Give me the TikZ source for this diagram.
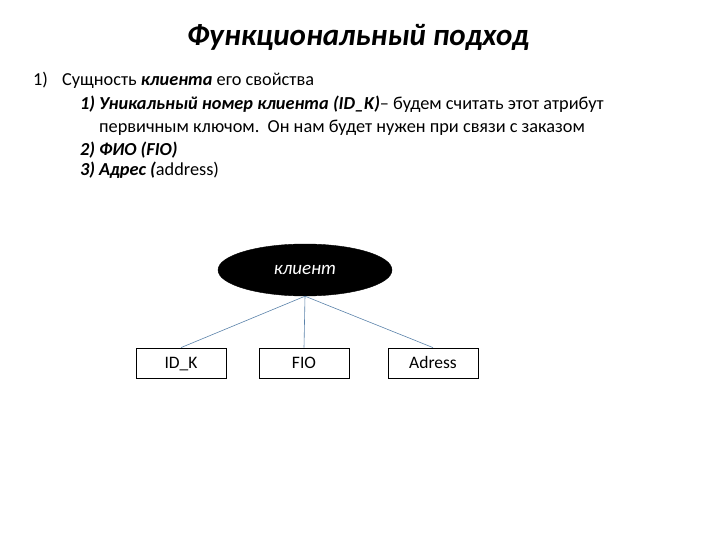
\documentclass[tikz,border=0pt]{standalone}
\usepackage{fontspec}
\setmainfont{Carlito}
\usetikzlibrary{shapes.geometric}
\definecolor{linkblue}{RGB}{90,130,170}
\tikzset{
  attr/.style={draw=black, line width=0.8pt, minimum width=90pt, minimum height=30pt, inner sep=0pt, text height=12pt, text depth=2pt, font=\fontsize{17.5}{20}\selectfont},
  ent/.style={ellipse, fill=black, draw=black, minimum width=174pt, minimum height=52pt, inner sep=0pt, text=white, font=\fontsize{19}{22}\selectfont\itshape},
  link/.style={draw=linkblue, line width=0.6pt},
  txt/.style={anchor=base west, inner sep=0pt, font=\fontsize{18.3}{22}\selectfont}
}
\begin{document}
\begin{tikzpicture}[x=1pt,y=-1pt]
\useasboundingbox (0,0) rectangle (720,540);
\node[anchor=base, inner sep=0pt, font=\fontsize{31}{36}\selectfont\bfseries\itshape] (title) at (358,46) {Функциональный подход};
\node[txt] (n1) at (33,86) {1)};
\node[txt] (l1) at (62,86) {Сущность \textbf{\textit{клиента}} его свойства};
\node[txt] (n2) at (80,110) {\textbf{\textit{1)}}};
\node[txt] (l2) at (99,110) {\textbf{\textit{Уникальный номер клиента (ID\_K)}}– будем считать этот атрибут};
\node[txt] (l3) at (99,133) {первичным ключом.\ \ Он нам будет нужен при связи с заказом};
\node[txt] (n4) at (80,156) {\textbf{\textit{2)}}};
\node[txt] (l4) at (99,156) {\textbf{\textit{ФИО (FIO)}}};
\node[txt] (n5) at (80,176) {\textbf{\textit{3)}}};
\node[txt] (l5) at (99,176) {\textbf{\textit{Адрес (}}address)};

\node[ent] (kl) at (305,270) {клиент};
\node[attr] (idk) at (181,363) {ID\_K};
\node[attr] (fio) at (304,363) {FIO};
\node[attr] (adr) at (433,363) {Adress};
\draw[link] (kl.south) -- (idk.north);
\draw[link] (kl.south) -- (fio.north);
\draw[link] (kl.south) -- (adr.north);
\end{tikzpicture}
\end{document}
